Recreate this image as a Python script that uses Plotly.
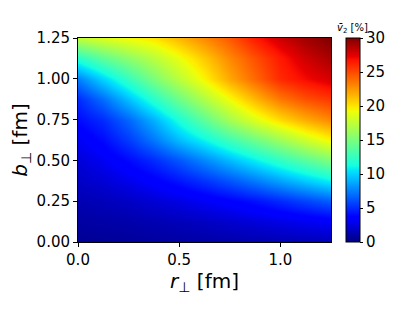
import plotly.graph_objects as go

r_perp = [0.0, 0.125, 0.25, 0.375, 0.5, 0.625, 0.75, 0.875, 1.0, 1.125, 1.25]
b_perp = [0.0, 0.125, 0.25, 0.375, 0.5, 0.625, 0.75, 0.875, 1.0, 1.125, 1.25]

# v2 [%] rows for each b_perp (bottom to top), columns follow r_perp
v2_b000 = [0.5, 0.6, 0.7, 0.8, 0.9, 1.0, 1.1, 1.2, 1.3, 1.4, 1.5]
v2_b125 = [0.9, 1.0, 1.1, 1.3, 1.5, 1.7, 2.0, 2.3, 2.6, 2.9, 3.2]
v2_b250 = [1.3, 1.5, 1.8, 2.2, 2.6, 3.1, 3.6, 4.2, 4.9, 5.7, 6.5]
v2_b375 = [1.8, 2.2, 2.8, 3.5, 4.3, 5.2, 6.2, 7.3, 8.5, 9.7, 10.8]
v2_b500 = [2.3, 3.0, 4.0, 5.0, 6.3, 7.8, 9.3, 10.8, 12.3, 13.8, 15.2]
v2_b625 = [3.0, 4.0, 5.5, 7.3, 9.3, 11.0, 12.8, 14.5, 16.2, 18.0, 19.5]
v2_b750 = [4.0, 5.0, 6.8, 9.0, 11.5, 14.0, 16.5, 18.5, 20.3, 21.8, 23.0]
v2_b875 = [5.0, 7.0, 9.5, 12.0, 14.5, 17.0, 19.3, 21.5, 23.5, 24.8, 25.6]
v2_b1000 = [7.5, 10.0, 12.5, 15.0, 17.3, 19.6, 22.0, 24.0, 26.0, 27.0, 27.8]
v2_b1125 = [12.0, 14.0, 15.7, 17.3, 19.0, 21.0, 23.0, 24.8, 26.5, 28.0, 29.0]
v2_b1250 = [17.5, 18.5, 19.3, 20.0, 21.5, 23.0, 24.5, 26.5, 28.0, 29.2, 30.0]

z = [v2_b000, v2_b125, v2_b250, v2_b375, v2_b500, v2_b625,
     v2_b750, v2_b875, v2_b1000, v2_b1125, v2_b1250]

x_ticks = [0.0, 0.5, 1.0]
y_ticks = [0.0, 0.25, 0.5, 0.75, 1.0, 1.25]
cbar_ticks = [0, 5, 10, 15, 20, 25, 30]

jet = [
    [0.0, 'rgb(0,0,128)'], [0.11, 'rgb(0,0,255)'], [0.125, 'rgb(0,0,255)'],
    [0.34, 'rgb(0,219,255)'], [0.35, 'rgb(0,229,247)'], [0.375, 'rgb(20,255,226)'],
    [0.64, 'rgb(238,255,8)'], [0.65, 'rgb(247,245,0)'], [0.66, 'rgb(255,236,0)'],
    [0.89, 'rgb(255,19,0)'], [0.91, 'rgb(232,0,0)'], [1.0, 'rgb(128,0,0)'],
]

font_family = "DejaVu Sans"

fig = go.Figure(go.Heatmap(
    x=r_perp, y=b_perp, z=z,
    zmin=0, zmax=30, zsmooth='best',
    colorscale=jet,
    colorbar=dict(
        x=1.059, xanchor='left', xpad=0, ypad=0,
        y=0.5, yanchor='middle', len=1.0, lenmode='fraction',
        thickness=14, outlinewidth=1, outlinecolor='black',
        tickvals=cbar_ticks, ticks='outside', ticklen=3, tickcolor='black',
        tickfont=dict(family=font_family, size=15, color='black'),
    ),
))

fig.add_annotation(
    text='<i>v̄</i><sub>2</sub> [%]', xref='paper', yref='paper',
    x=1.085, y=1.0, xanchor='center', yanchor='bottom', yshift=1,
    showarrow=False, font=dict(family=font_family, size=10, color='black'),
)

fig.update_layout(
    width=415, height=311,
    margin=dict(l=70, r=92, t=30, b=77, autoexpand=False),
    paper_bgcolor='white', plot_bgcolor='white',
    font=dict(family=font_family, color='black'),
    xaxis=dict(
        range=[0, 1.25], tickvals=x_ticks, tickformat='.1f',
        ticks='outside', ticklen=4, tickcolor='black',
        showline=True, mirror=True, linecolor='black', linewidth=1,
        showgrid=False, zeroline=False,
        tickfont=dict(size=15),
        title=dict(text='<i>r</i><sub>⊥</sub> [fm]', font=dict(size=20), standoff=2),
    ),
    yaxis=dict(
        range=[0, 1.25], tickvals=y_ticks, tickformat='.2f',
        ticks='outside', ticklen=4, tickcolor='black',
        showline=True, mirror=True, linecolor='black', linewidth=1,
        showgrid=False, zeroline=False,
        tickfont=dict(size=15),
        title=dict(text='<i>b</i><sub>⊥</sub> [fm]', font=dict(size=20), standoff=6),
    ),
)

fig.write_html("out.html")
